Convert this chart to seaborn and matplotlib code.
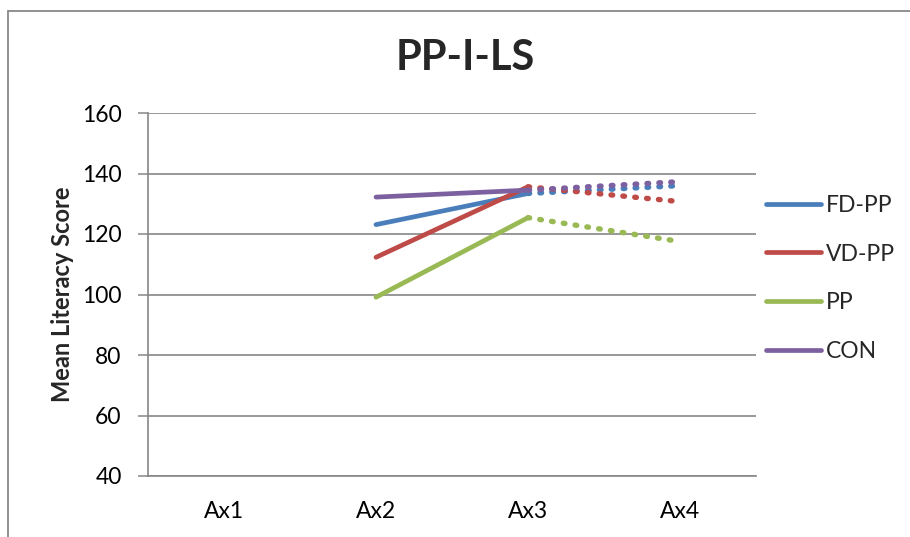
import numpy as np
import pandas as pd
import matplotlib
matplotlib.use("Agg")
import matplotlib.pyplot as plt
from matplotlib.lines import Line2D
import seaborn as sns

categories = ["Ax1", "Ax2", "Ax3", "Ax4"]
series_names = ["FD-PP", "VD-PP", "PP", "CON"]
fd_pp = [np.nan, 123.1, 133.4, 136.0]
vd_pp = [np.nan, 112.3, 135.6, 130.7]
pp = [np.nan, 99.1, 125.4, 117.5]
con = [np.nan, 132.2, 134.5, 137.3]
yticks = [40, 60, 80, 100, 120, 140, 160]
colors = ["#4A7EBB", "#BE4B48", "#98B954", "#7D60A0"]

sns.set_theme(style="white")
plt.rcParams["font.family"] = ["Lato", "DejaVu Sans"]

rows = []
for name, vals in zip(series_names, [fd_pp, vd_pp, pp, con]):
    for i, (cat, v) in enumerate(zip(categories, vals)):
        if cat in ("Ax2", "Ax3"):
            rows.append({"series": name, "segment": "solid", "x": i, "value": v})
        if cat in ("Ax3", "Ax4"):
            rows.append({"series": name, "segment": "dotted", "x": i, "value": v})
df = pd.DataFrame(rows)

fig = plt.figure(figsize=(9.10, 5.37), dpi=100)
ax = fig.add_axes([148 / 910, 1 - 476 / 537, (756 - 148) / 910, (476 - 113) / 537])
palette = dict(zip(series_names, colors))

sns.lineplot(data=df, x="x", y="value", hue="series", hue_order=series_names,
             style="segment", style_order=["solid", "dotted"],
             dashes={"solid": "", "dotted": (0.3, 1.9)},
             palette=palette, linewidth=3.4, ax=ax, legend=False, sort=False,
             estimator=None, solid_capstyle="round", dash_capstyle="round")
for ln in ax.get_lines():
    ls = ln.get_linestyle()
    ln.set_linewidth(3.4 if ls == "-" else 3.9)
    ln.set_dash_capstyle("round")
    ln.set_solid_capstyle("round")

ax.set_xlim(-0.5, len(categories) - 0.5)
ax.set_ylim(yticks[0], yticks[-1])
ax.set_xticks(range(len(categories)))
ax.set_xticklabels(categories, fontsize=16.5, color="#000000")
ax.set_yticks(yticks)
ax.set_yticklabels([str(t) for t in yticks], fontsize=16.5, color="#000000")
ax.tick_params(axis="x", length=0, pad=18)
ax.tick_params(axis="y", length=7, width=1.1, color="#868686", pad=12, left=True)
ax.grid(axis="y", color="#868686", lw=1.2)
ax.grid(axis="x", visible=False)
for s in ["top", "right"]:
    ax.spines[s].set_visible(False)
for s in ["left", "bottom"]:
    ax.spines[s].set_color("#868686")
    ax.spines[s].set_linewidth(1.2)
ax.set_xlabel("")
ax.set_ylabel("Mean Literacy Score", fontsize=17, fontweight="bold", labelpad=6)
ax.set_title("")
fig.text(465 / 910, 1 - 58 / 537, "PP-I-LS", fontsize=30, fontweight="bold",
         ha="center", va="center")

handles = [Line2D([], [], color=palette[n], lw=3.4, solid_capstyle="round")
           for n in series_names]
leg = ax.legend(handles, series_names, loc="center left",
                bbox_to_anchor=(766 / 910, 1 - 278.5 / 537),
                bbox_transform=fig.transFigure, frameon=False, fontsize=16.5,
                handlelength=2.4, handletextpad=0.2, labelspacing=1.22,
                borderpad=0, borderaxespad=0)

fig.add_artist(Line2D([8 / 910, 8 / 910], [0, 1 - 11 / 537], transform=fig.transFigure,
                      color="#888888", lw=1.3))
fig.add_artist(Line2D([8 / 910, 1], [1 - 11 / 537, 1 - 11 / 537], transform=fig.transFigure,
                      color="#888888", lw=1.3))

fig.savefig("out.png", dpi=100)
